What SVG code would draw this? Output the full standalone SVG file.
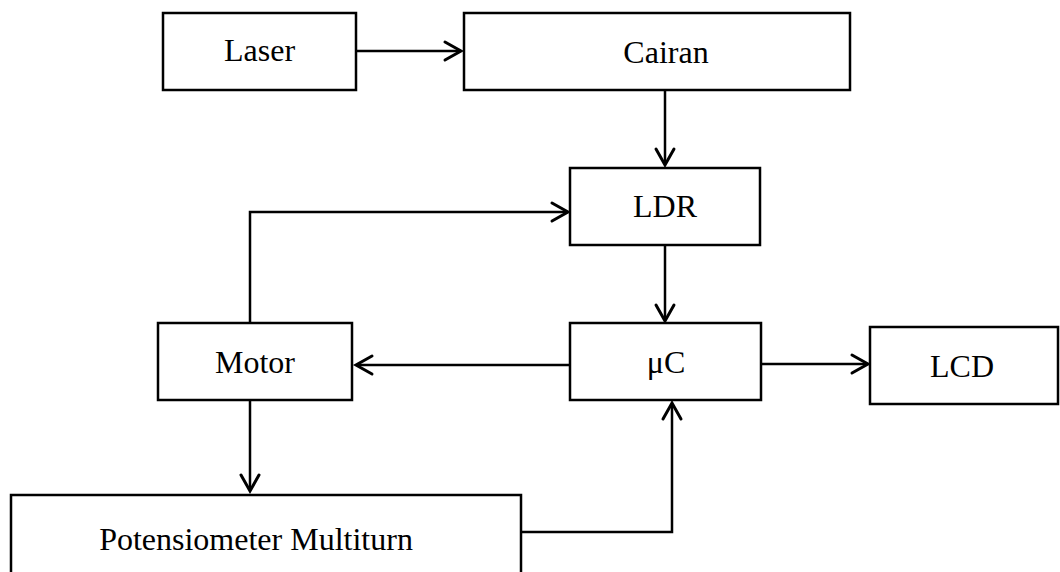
<svg xmlns="http://www.w3.org/2000/svg" width="1060" height="572" viewBox="0 0 1060 572">
<style>
.box{fill:#fff;stroke:#000;stroke-width:2.5}
.lbl{font-family:"Liberation Serif","Times New Roman",serif;font-size:32px;fill:#000;text-anchor:middle}
.wire{fill:none;stroke:#000;stroke-width:2.5}
.head{fill:none;stroke:#000;stroke-width:3;stroke-linecap:round;stroke-linejoin:miter}
</style>
<rect x="0" y="0" width="1060" height="572" fill="#fff"/>
<g id="connectors">
  <path class="wire" d="M356 51 H460"/>
  <path class="head" d="M445 42 L461 51 L445 60"/>
  <path class="wire" d="M665 90 V164"/>
  <path class="head" d="M656 149 L665 165 L674 149"/>
  <path class="wire" d="M250 323 V212 H567"/>
  <path class="head" d="M552 203 L568 212 L552 221"/>
  <path class="wire" d="M665 245 V320"/>
  <path class="head" d="M656 305 L665 321 L674 305"/>
  <path class="wire" d="M570 365 H357"/>
  <path class="head" d="M372 356 L356 365 L372 374"/>
  <path class="wire" d="M761 364 H867"/>
  <path class="head" d="M852 355 L868 364 L852 373"/>
  <path class="wire" d="M250 400 V490"/>
  <path class="head" d="M241 475 L250 491 L259 475"/>
  <path class="wire" d="M521 532 H672 V404"/>
  <path class="head" d="M663 419 L672 403 L681 419"/>
</g>
<g id="laser"><rect class="box" x="163" y="13" width="193" height="77"/><text class="lbl" x="259.5" y="61">Laser</text></g>
<g id="cairan"><rect class="box" x="464" y="13" width="386" height="77"/><text class="lbl" x="666" y="63">Cairan</text></g>
<g id="ldr"><rect class="box" x="570" y="168" width="190" height="77"/><text class="lbl" x="665" y="217">LDR</text></g>
<g id="uc"><rect class="box" x="570" y="323" width="191" height="77"/><text class="lbl" x="666" y="373">μC</text></g>
<g id="motor"><rect class="box" x="158" y="323" width="194" height="77"/><text class="lbl" x="255" y="373">Motor</text></g>
<g id="lcd"><rect class="box" x="870" y="327" width="188" height="77"/><text class="lbl" x="962" y="377">LCD</text></g>
<g id="pot"><rect class="box" x="11" y="495" width="510" height="90"/><text class="lbl" x="256" y="550">Potensiometer Multiturn</text></g>
</svg>
